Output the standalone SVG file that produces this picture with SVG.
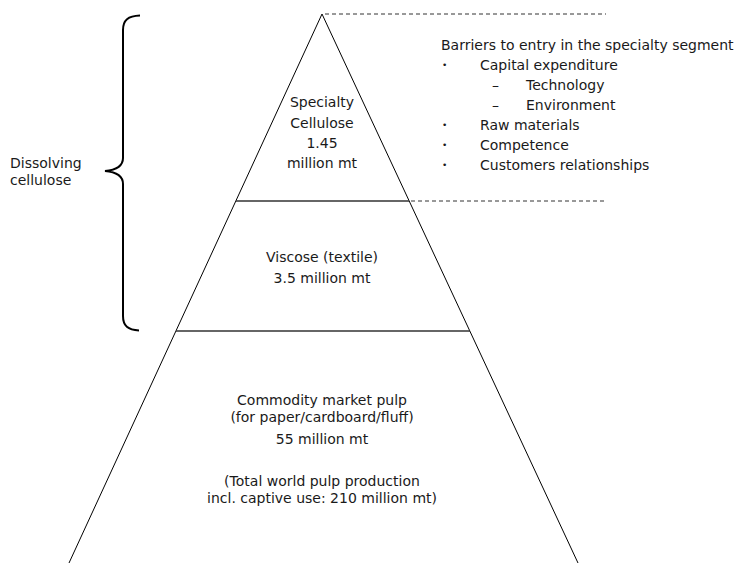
<svg xmlns="http://www.w3.org/2000/svg" width="742" height="563" viewBox="0 0 742 563">
<style>
text{font-family:"DejaVu Sans",Verdana,sans-serif;font-size:14px;fill:#1a1a1a}
.c{text-anchor:middle}
.b{font-size:9px}
.edge{stroke:#000;stroke-width:1;fill:none}
.tier{stroke:#333;stroke-width:1.5;fill:none}
.dash{stroke:#333;stroke-width:1;stroke-dasharray:4 3;fill:none}
.brace{stroke:#000;stroke-width:2;fill:none}
</style>
<rect width="742" height="563" fill="#fff"/>
<g id="connectors">
<line class="edge" x1="322" y1="14" x2="69" y2="563"/>
<line class="edge" x1="322" y1="14" x2="578" y2="563"/>
<line class="tier" x1="236" y1="201" x2="409" y2="201"/>
<line class="tier" x1="176" y1="331" x2="470" y2="331"/>
<line class="dash" x1="325" y1="14" x2="606" y2="14"/>
<line class="dash" x1="411" y1="201" x2="606" y2="201"/>
</g>
<g id="brace">
<path class="brace" d="M140,15.5 C128,16 123,20 123,30 L123,158 C123,166 116,170 105,171 C116,172 123,176 123,184 L123,316 C123,326 128,330 139,330.5"/>
<text x="10" y="168">Dissolving</text>
<text x="10" y="185">cellulose</text>
</g>
<g id="specialty">
<text class="c" x="322" y="107">Specialty</text>
<text class="c" x="322" y="128">Cellulose</text>
<text class="c" x="322" y="148">1.45</text>
<text class="c" x="322" y="168">million mt</text>
</g>
<g id="viscose">
<text class="c" x="322" y="262">Viscose (textile)</text>
<text class="c" x="322" y="283">3.5 million mt</text>
</g>
<g id="commodity">
<text class="c" x="322" y="405">Commodity market pulp</text>
<text class="c" x="322" y="422">(for paper/cardboard/fluff)</text>
<text class="c" x="322" y="444">55 million mt</text>
<text class="c" x="322" y="486">(Total world pulp production</text>
<text class="c" x="322" y="503">incl. captive use: 210 million mt)</text>
</g>
<g id="barriers">
<text x="441" y="50">Barriers to entry in the specialty segment</text>
<text class="b" x="442" y="68">•</text><text x="480" y="70">Capital expenditure</text>
<text x="492" y="90">–</text><text x="526" y="90">Technology</text>
<text x="492" y="110">–</text><text x="526" y="110">Environment</text>
<text class="b" x="442" y="128">•</text><text x="480" y="130">Raw materials</text>
<text class="b" x="442" y="148">•</text><text x="480" y="150">Competence</text>
<text class="b" x="442" y="168">•</text><text x="480" y="170">Customers relationships</text>
</g>
</svg>
